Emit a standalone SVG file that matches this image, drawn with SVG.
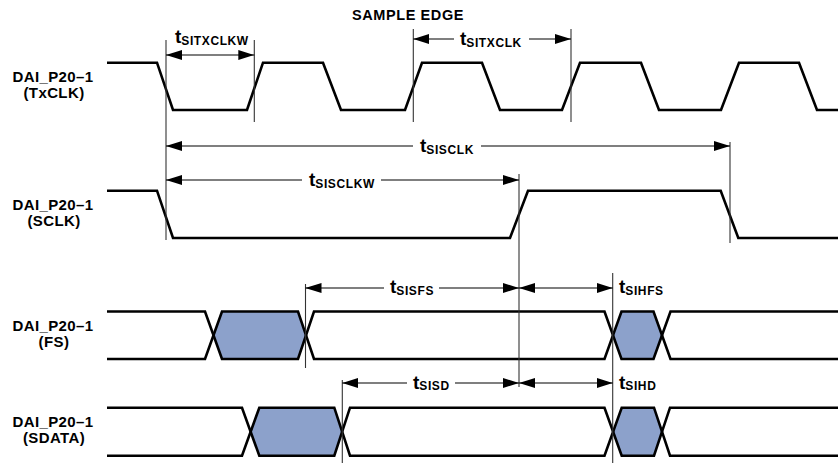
<svg xmlns="http://www.w3.org/2000/svg" width="838" height="464" viewBox="0 0 838 464">
<style>
text{font-family:"Liberation Sans",Arial,Helvetica,sans-serif;font-weight:bold;fill:#000}
.lbl{font-size:15px;letter-spacing:0.4px;text-anchor:middle}
.t{font-size:19px}
.sub{font-size:12px;letter-spacing:0.6px}
.wave{fill:none;stroke:#000;stroke-width:2.6;stroke-linejoin:miter}
.hex{fill:#8CA1CB;stroke:none}
.vl{stroke:#333;stroke-width:1.1;fill:none}
.ar{stroke:#000;stroke-width:1.1;fill:none}
.s{marker-start:url(#ah)}
.e{marker-end:url(#ah)}
</style>
<defs>
<marker id="ah" markerUnits="userSpaceOnUse" markerWidth="16" markerHeight="10" refX="16" refY="5" orient="auto-start-reverse" viewBox="0 0 16 10">
<path d="M0,0 L16,5 L0,10 z" fill="#000"/>
</marker>
</defs>
<rect width="838" height="464" fill="#fff"/>

<g id="title"><text x="408" y="19.5" class="lbl" style="font-size:14.5px;letter-spacing:0.6px">SAMPLE EDGE</text></g>

<g id="txclk">
<text x="53" y="82" class="lbl">DAI_P20–1</text>
<text x="54" y="98" class="lbl">(TxCLK)</text>
<path class="wave" d="M107,62.7 H157 L173,110 H247 L263,62.7 H323 L341,110 H405 L422,62.7 H482 L500,110 H562 L580,62.7 H641 L659,110 H721 L739,62.7 H799 L817,110 H838"/>
</g>

<g id="sclk">
<text x="53" y="210" class="lbl">DAI_P20–1</text>
<text x="54" y="226" class="lbl">(SCLK)</text>
<path class="wave" d="M107,190.7 H157 L173,238 H510 L528,190.7 H720.7 L738.3,238 H838"/>
</g>

<g id="fs">
<text x="53" y="331" class="lbl">DAI_P20–1</text>
<text x="54" y="347" class="lbl">(FS)</text>
<polygon class="hex" points="213.5,335.3 222,311.5 298,311.5 306,335.3 298,359 222,359"/>
<polygon class="hex" points="613,335.3 621.5,311.5 653.5,311.5 662,335.3 653.5,359 621.5,359"/>
<path class="wave" d="M107,311.5 H205 L222,359 H298 L314,311.5 H604.5 L621.5,359 H653.5 L670.5,311.5 H838"/>
<path class="wave" d="M107,359 H205 L222,311.5 H298 L314,359 H604.5 L621.5,311.5 H653.5 L670.5,359 H838"/>
</g>

<g id="sdata">
<text x="53" y="427" class="lbl">DAI_P20–1</text>
<text x="54" y="443" class="lbl">(SDATA)</text>
<polygon class="hex" points="250.7,431.7 259.3,407.7 334.3,407.7 342.3,431.7 334.3,455.7 259.3,455.7"/>
<polygon class="hex" points="613,431.7 621.7,407.7 654,407.7 662,431.7 654,455.7 621.7,455.7"/>
<path class="wave" d="M107,407.7 H242 L259.3,455.7 H334.3 L350,407.7 H604.5 L621.7,455.7 H654 L670,407.7 H838"/>
<path class="wave" d="M107,455.7 H242 L259.3,407.7 H334.3 L350,455.7 H604.5 L621.7,407.7 H654 L670,455.7 H838"/>
</g>

<g id="connectors">
<line class="vl" x1="166" y1="40" x2="166" y2="240"/>
<line class="vl" x1="254.3" y1="40" x2="254.3" y2="122"/>
<line class="vl" x1="413.3" y1="29" x2="413.3" y2="122"/>
<line class="vl" x1="571" y1="29" x2="571" y2="122"/>
<line class="vl" x1="730" y1="142" x2="730" y2="243"/>
<line class="vl" x1="519" y1="174" x2="519" y2="387"/>
<line class="vl" x1="305.5" y1="284" x2="305.5" y2="368"/>
<line class="vl" x1="612.7" y1="273" x2="612.7" y2="463"/>
<line class="vl" x1="342.3" y1="380" x2="342.3" y2="463"/>

<line class="ar s e" x1="166" y1="55" x2="254.3" y2="55"/>
<line class="ar s" x1="413.3" y1="39" x2="454" y2="39"/>
<line class="ar e" x1="529" y1="39" x2="571" y2="39"/>
<line class="ar s" x1="166" y1="146" x2="413" y2="146"/>
<line class="ar e" x1="481" y1="146" x2="730" y2="146"/>
<line class="ar s" x1="166" y1="180" x2="302" y2="180"/>
<line class="ar e" x1="381" y1="180" x2="519" y2="180"/>
<line class="ar s" x1="305.5" y1="288" x2="384" y2="288"/>
<line class="ar e" x1="439" y1="288" x2="519" y2="288"/>
<line class="ar s e" x1="519" y1="288" x2="612.7" y2="288"/>
<line class="ar s" x1="342.3" y1="383" x2="407" y2="383"/>
<line class="ar e" x1="455" y1="383" x2="519" y2="383"/>
<line class="ar s e" x1="519" y1="383" x2="612.7" y2="383"/>
</g>

<g id="labels">
<text x="175" y="43" class="t">t<tspan class="sub" dy="2">SITXCLKW</tspan></text>
<text x="460" y="45" class="t">t<tspan class="sub" dy="1.5">SITXCLK</tspan></text>
<text x="420" y="152" class="t">t<tspan class="sub" dy="1.5">SISCLK</tspan></text>
<text x="309" y="186" class="t">t<tspan class="sub" dy="1.5">SISCLKW</tspan></text>
<text x="390" y="293" class="t">t<tspan class="sub" dy="1.5">SISFS</tspan></text>
<text x="619" y="293" class="t">t<tspan class="sub" dy="1.5">SIHFS</tspan></text>
<text x="413" y="388.5" class="t">t<tspan class="sub" dy="1.5">SISD</tspan></text>
<text x="619" y="388.5" class="t">t<tspan class="sub" dy="1.5">SIHD</tspan></text>
</g>
</svg>
